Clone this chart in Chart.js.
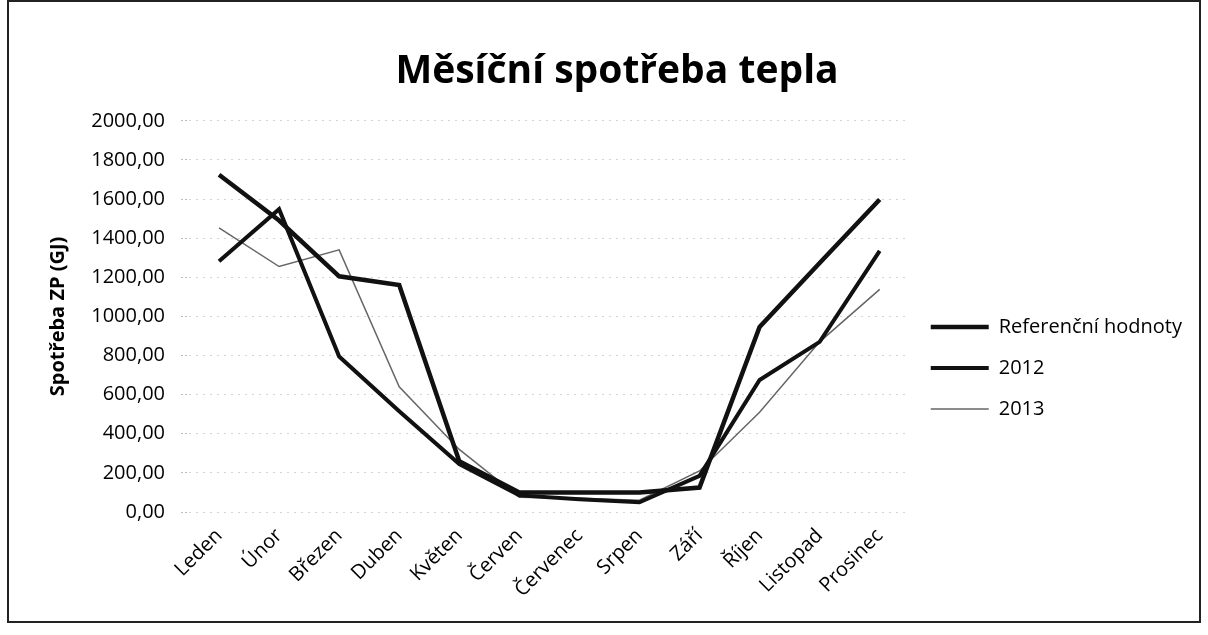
<!doctype html>
<html>

<head>
    <meta charset="utf-8">
    <title>Měsíční spotřeba tepla</title>
    <script src="https://cdn.jsdelivr.net/npm/chart.js"></script>
    <style>
        body { margin: 0; background: #fff; }
        #obal { position: absolute; left: 7px; top: 0px; width: 1190px; height: 619px; border: 2px solid #222; }
    </style>
</head>

<body>

    <div id="obal">
        <canvas id="spotreba"></canvas>
    </div>

    <script>
        var mesice = ['Leden', 'Únor', 'Březen', 'Duben', 'Květen', 'Červen', 'Červenec', 'Srpen', 'Září', 'Říjen', 'Listopad', 'Prosinec'];
        var referencni = [1724, 1490, 1205, 1160, 260, 100, 100, 100, 125, 946, 1273, 1598];
        var rok2012 = [1282, 1548, 795, 515, 245, 85, 65, 50, 185, 675, 870, 1335];
        var rok2013 = [1453, 1255, 1340, 640, 320, 75, 70, 60, 210, 510, 870, 1138];

        Chart.defaults.font.family = 'Open Sans';
        Chart.defaults.color = '#111';

        var graf = new Chart(document.getElementById('spotreba').getContext('2d'), {
            type: 'line',
            data: {
                labels: mesice,
                datasets: [{
                    label: 'Referenční hodnoty',
                    data: referencni,
                    borderColor: '#111',
                    backgroundColor: '#111',
                    borderWidth: 4.5
                }, {
                    label: '2012',
                    data: rok2012,
                    borderColor: '#111',
                    backgroundColor: '#111',
                    borderWidth: 4
                }, {
                    label: '2013',
                    data: rok2013,
                    borderColor: '#666',
                    backgroundColor: '#666',
                    borderWidth: 1.5
                }]
            },
            options: {
                responsive: true,
                maintainAspectRatio: false,
                animation: false,
                layout: { padding: { left: 33, right: 7, top: 0, bottom: 15 } },
                elements: { point: { radius: 0 }, line: { tension: 0 } },
                plugins: {
                    title: {
                        display: true,
                        text: 'Měsíční spotřeba tepla',
                        color: '#000',
                        font: { size: 39, weight: 'bold' },
                        padding: { top: 46, bottom: 26 }
                    },
                    legend: {
                        position: 'right',
                        // prazdny titulek jen posune polozky legendy dolu
                        title: { display: true, text: '', font: { size: 10 }, padding: { top: 116, bottom: 0 } },
                        labels: {
                            boxWidth: 58,
                            boxHeight: 0,
                            padding: 21,
                            color: '#000',
                            font: { size: 20 }
                        }
                    },
                    tooltip: { enabled: false }
                },
                scales: {
                    x: {
                        offset: true,
                        grid: { display: false },
                        border: { display: false },
                        ticks: {
                            maxRotation: 45,
                            minRotation: 45,
                            color: '#000',
                            font: { size: 20 },
                            padding: 4
                        }
                    },
                    y: {
                        min: 0,
                        max: 2000,
                        afterFit: function (osa) { osa.width = 147; },
                        border: { display: false, dash: [2, 5] },
                        grid: {
                            color: '#d4d4d4',
                            tickColor: '#bbb',
                            tickLength: 8,
                            tickBorderDash: [2, 2]
                        },
                        ticks: {
                            stepSize: 200,
                            padding: 16,
                            color: '#000',
                            font: { size: 20 },
                            callback: function (hodnota) {
                                return hodnota.toFixed(2).replace('.', ',');
                            }
                        },
                        title: {
                            display: true,
                            text: 'Spotřeba ZP (GJ)',
                            color: '#000',
                            font: { size: 20, weight: 'bold' }
                        }
                    }
                }
            }
        });
    </script>
</body>

</html>
